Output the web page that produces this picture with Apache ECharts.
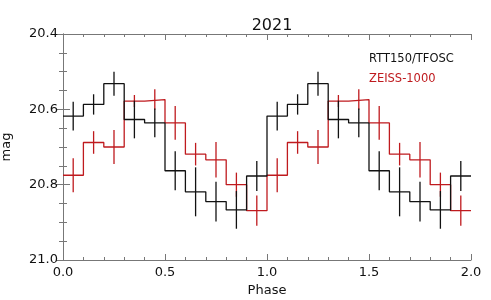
<!DOCTYPE html>
<html>
<head>
<meta charset="utf-8">
<script src="https://cdn.jsdelivr.net/npm/echarts@6/dist/echarts.min.js"></script>
<style>html,body{margin:0;padding:0;background:#fff}#c{width:491px;height:300px}</style>
</head>
<body>
<div id="c"></div>
<script>
// Phase bin centres (one cycle, repeated for phase 1-2)
const phaseCenters = [0.05, 0.15, 0.25, 0.35, 0.45, 0.55, 0.65, 0.75, 0.85, 0.95];
const binWidth = 0.1;
// RTT150/TFOSC magnitudes and errors
const rttMag = [20.618, 20.587, 20.532, 20.627, 20.636, 20.763, 20.819, 20.845, 20.867, 20.777];
const rttErr = [0.038, 0.027, 0.032, 0.050, 0.038, 0.052, 0.065, 0.053, 0.050, 0.040];
// ZEISS-1000 magnitudes and errors
const zeissMag = [20.775, 20.688, 20.700, 20.578, 20.574, 20.636, 20.719, 20.734, 20.800, 20.869];
const zeissErr = [0.045, 0.030, 0.045, 0.016, 0.027, 0.045, 0.030, 0.047, 0.032, 0.040];
const yTicks = [20.4, 20.6, 20.8, 21.0];
const xTicks = [0.0, 0.5, 1.0, 1.5, 2.0];
const title = '2021';
const names = ['RTT150/TFOSC', 'ZEISS-1000'];
const colors = ['#111111', '#bf1a1e'];

const FONT = 'DejaVu Sans';

function stepData(mag) {
  const d = [];
  for (let cyc = 0; cyc < 2; cyc++) {
    phaseCenters.forEach((p, i) => d.push([cyc + p - binWidth / 2, mag[i]]));
  }
  const last = mag[mag.length - 1];
  d.push([1 + phaseCenters[phaseCenters.length - 1] + binWidth / 2, last]);
  return d;
}
function errData(mag, err) {
  const d = [];
  for (let cyc = 0; cyc < 2; cyc++) {
    phaseCenters.forEach((p, i) => d.push([cyc + p, mag[i] - err[i], mag[i] + err[i]]));
  }
  return d;
}
function errSeries(mag, err, color) {
  return {
    type: 'custom',
    xAxisIndex: 0, yAxisIndex: 0,
    data: errData(mag, err),
    encode: { x: 0, y: [1, 2] },
    renderItem: function (params, api) {
      const a = api.coord([api.value(0), api.value(1)]);
      const b = api.coord([api.value(0), api.value(2)]);
      return { type: 'line', shape: { x1: a[0], y1: a[1], x2: b[0], y2: b[1] },
        style: { stroke: color, lineWidth: 1.3 } };
    },
    z: 3
  };
}

const axisLineStyle = { color: '#777', width: 1 };
const chart = echarts.init(document.getElementById('c'));
chart.setOption({
  animation: false,
  backgroundColor: '#fff',
  title: { text: title, left: 267, top: 13, textAlign: 'center',
    textStyle: { fontFamily: FONT, fontSize: 16, fontWeight: 'normal', color: '#111' } },
  grid: { left: 63, right: 20, top: 34, bottom: 40, containLabel: false, outerBoundsMode: 'none' },
  xAxis: [{
    type: 'value', min: xTicks[0], max: xTicks[xTicks.length - 1], interval: 0.5,
    position: 'bottom',
    name: 'Phase', nameLocation: 'middle', nameGap: 23,
    nameTextStyle: { fontFamily: FONT, fontSize: 13, color: '#111' },
    axisLine: { show: true, lineStyle: axisLineStyle },
    axisTick: { show: true, inside: true, length: 6, lineStyle: axisLineStyle },
    minorTick: { show: true, splitNumber: 5, length: 3, lineStyle: axisLineStyle },
    splitLine: { show: false }, minorSplitLine: { show: false },
    axisLabel: { fontFamily: FONT, fontSize: 13, color: '#111', margin: 6,
      formatter: v => v.toFixed(1) }
  }, {
    type: 'value', min: 0, max: 2, interval: 0.5, position: 'top',
    axisLine: { show: true, lineStyle: axisLineStyle },
    axisTick: { show: true, inside: true, length: 6, lineStyle: axisLineStyle },
    minorTick: { show: true, splitNumber: 5, length: 3, lineStyle: axisLineStyle },
    splitLine: { show: false }, axisLabel: { show: false }
  }],
  yAxis: [{
    type: 'value', inverse: true, min: yTicks[0], max: yTicks[yTicks.length - 1], interval: 0.2,
    position: 'left',
    name: 'mag', nameLocation: 'middle', nameGap: 50, nameRotate: 90,
    nameTextStyle: { fontFamily: FONT, fontSize: 13, color: '#111' },
    axisLine: { show: true, lineStyle: axisLineStyle },
    axisTick: { show: true, inside: true, length: 7, lineStyle: axisLineStyle },
    minorTick: { show: true, splitNumber: 4, length: 4, lineStyle: axisLineStyle },
    splitLine: { show: false }, minorSplitLine: { show: false },
    axisLabel: { fontFamily: FONT, fontSize: 13, color: '#111', margin: 5,
      formatter: v => v.toFixed(1) }
  }, {
    type: 'value', inverse: true, min: 20.4, max: 21.0, interval: 0.2, position: 'right',
    axisLine: { show: true, lineStyle: axisLineStyle },
    axisTick: { show: true, inside: true, length: 7, lineStyle: axisLineStyle },
    minorTick: { show: true, splitNumber: 4, length: 4, lineStyle: axisLineStyle },
    splitLine: { show: false }, axisLabel: { show: false }
  }],
  graphic: [
    { type: 'text', left: 369, top: 53, style: { text: names[0], fill: colors[0], font: '11.5px "DejaVu Sans"' } },
    { type: 'text', left: 369, top: 73, style: { text: names[1], fill: colors[1], font: '11.5px "DejaVu Sans"' } }
  ],
  series: [
    { type: 'line', name: names[1], step: 'end', data: stepData(zeissMag), showSymbol: false,
      lineStyle: { color: colors[1], width: 1.3 }, z: 2 },
    errSeries(zeissMag, zeissErr, colors[1]),
    { type: 'line', name: names[0], step: 'end', data: stepData(rttMag), showSymbol: false,
      lineStyle: { color: colors[0], width: 1.3 }, z: 4 },
    errSeries(rttMag, rttErr, colors[0])
  ]
});
</script>
</body>
</html>
